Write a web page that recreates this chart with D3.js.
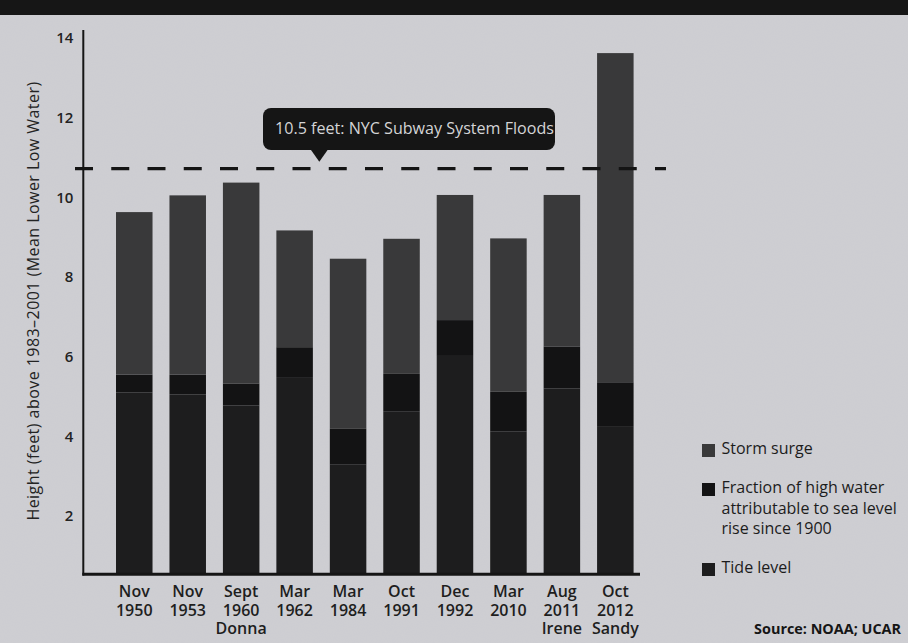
<!DOCTYPE html>
<html>
<head>
<meta charset="utf-8">
<script src="https://cdn.jsdelivr.net/npm/d3@7"></script>
<style>
  html, body { margin: 0; padding: 0; background: #cdcdd1; }
  svg { display: block; font-family: "Open Sans", "Noto Sans", sans-serif; }
</style>
</head>
<body>
<div id="chart"></div>
<script>
// storm events, oldest first
var months = ["Nov", "Nov", "Sept", "Mar", "Mar", "Oct", "Dec", "Mar", "Aug", "Oct"];
var years = ["1950", "1953", "1960", "1962", "1984", "1991", "1992", "2010", "2011", "2012"];
var names = ["", "", "Donna", "", "", "", "", "", "Irene", "Sandy"];

// feet above 1983-2001 MLLW
var tideLevel = [5.10, 5.05, 4.78, 5.49, 3.29, 4.62, 6.02, 4.12, 5.20, 4.26];
var seaLevelRise = [0.45, 0.50, 0.55, 0.75, 0.90, 0.95, 0.90, 1.00, 1.05, 1.10];
var stormSurge = [4.08, 4.50, 5.04, 2.93, 4.27, 3.39, 3.14, 3.85, 3.81, 8.26];

var yTicks = [2, 4, 6, 8, 10, 12, 14];
var floodLevel = 10.72;
var floodLabel = "10.5 feet: NYC Subway System Floods";

var seriesKeys = ["tide", "slr", "surge"];
var seriesColors = { tide: "#1d1d1e", slr: "#131314", surge: "#39393a" };
var legendItems = [
  { key: "surge", lines: ["Storm surge"] },
  { key: "slr", lines: ["Fraction of high water", "attributable to sea level", "rise since 1900"] },
  { key: "tide", lines: ["Tide level"] }
];

var W = 908, H = 643;

var rows = years.map(function(y, i) {
  return { id: i, tide: tideLevel[i], slr: seaLevelRise[i], surge: stormSurge[i] };
});

var svg = d3.select("#chart").append("svg")
  .attr("width", W)
  .attr("height", H);

// paper grain
var defs = svg.append("defs");
var grain = defs.append("filter").attr("id", "grain")
  .attr("x", 0).attr("y", 0).attr("width", "100%").attr("height", "100%");
grain.append("feTurbulence")
  .attr("type", "fractalNoise").attr("baseFrequency", 0.9)
  .attr("numOctaves", 2).attr("seed", 3).attr("result", "noise");
grain.append("feColorMatrix").attr("type", "matrix")
  .attr("values", "0 0 0 0 0.55  0 0 0 0 0.55  0 0 0 0 0.6  0 0 0 0.25 0");

svg.append("rect").attr("width", W).attr("height", H).attr("fill", "#cfcfd3");
svg.append("rect").attr("width", W).attr("height", H).attr("filter", "url(#grain)");

// black header strip cut off at the top
svg.append("rect").attr("x", 0).attr("y", 0).attr("width", W).attr("height", 15).attr("fill", "#161616");

var x = d3.scaleBand()
  .domain(d3.range(years.length))
  .range([83.3, 666.3])
  .paddingInner(0.317)
  .paddingOuter(0.612);

var y = d3.scaleLinear()
  .domain([0.54, 14.2])
  .range([574.3, 30])
  .clamp(true);

var stack = d3.stack().keys(seriesKeys);
var layers = stack(rows);

svg.append("g").selectAll("g")
  .data(layers)
  .join("g")
  .attr("fill", function(d) { return seriesColors[d.key]; })
  .selectAll("rect")
  .data(function(d) { return d; })
  .join("rect")
  .attr("x", function(d, i) { return x(i); })
  .attr("width", x.bandwidth())
  .attr("y", function(d) { return y(d[1]); })
  .attr("height", function(d) { return y(d[0]) - y(d[1]); });

// y axis
var yAxis = d3.axisLeft(y).tickValues(yTicks).tickSize(0).tickPadding(10);
var gy = svg.append("g").attr("transform", "translate(83.3,0)").call(yAxis);
gy.select(".domain").remove();
gy.selectAll("text")
  .attr("font-size", 15).attr("font-weight", 600).attr("fill", "#232323")
  .attr("font-family", "Open Sans, sans-serif");
svg.append("line")
  .attr("x1", 83.3).attr("x2", 83.3).attr("y1", y(14.2)).attr("y2", 575.5)
  .attr("stroke", "#151515").attr("stroke-width", 2);

// x axis line
svg.append("line")
  .attr("x1", 82.3).attr("x2", 640).attr("y1", 574.3).attr("y2", 574.3)
  .attr("stroke", "#151515").attr("stroke-width", 3);

// x labels
var xl = svg.append("g").selectAll("text")
  .data(years.map(function(yr, i) { return [months[i], yr, names[i]]; }))
  .join("text")
  .attr("text-anchor", "middle")
  .attr("font-size", 16).attr("font-weight", 600).attr("fill", "#1e1e1e")
  .attr("transform", function(d, i) { return "translate(" + (x(i) + x.bandwidth() / 2) + ",0)"; });
xl.selectAll("tspan")
  .data(function(d) { return d; })
  .join("tspan")
  .attr("x", 0)
  .attr("y", function(d, j) { return 597 + j * 18.5; })
  .text(function(d) { return d; });

// y axis title
svg.append("text")
  .attr("transform", "translate(39," + 301 + ") rotate(-90)")
  .attr("text-anchor", "middle")
  .attr("font-size", 16).attr("fill", "#232323")
  .attr("letter-spacing", 0.45)
  .text("Height (feet) above 1983\u20132001 (Mean Lower Low Water)");

// flood level dashed line
svg.append("line")
  .attr("x1", 75).attr("x2", 666)
  .attr("y1", y(floodLevel)).attr("y2", y(floodLevel))
  .attr("stroke", "#141414").attr("stroke-width", 3.2)
  .attr("stroke-dasharray", "18,18.25");

// callout
var cx0 = 263, cx1 = 555, cy0 = 108, cy1 = 150, tipX = 319.3;
svg.append("rect")
  .attr("x", cx0).attr("y", cy0).attr("width", cx1 - cx0).attr("height", cy1 - cy0)
  .attr("rx", 8).attr("fill", "#151515");
svg.append("path")
  .attr("d", "M" + (tipX - 9) + "," + (cy1 - 1) + "L" + tipX + "," + (y(floodLevel) - 7) + "L" + (tipX + 9) + "," + (cy1 - 1) + "Z")
  .attr("fill", "#151515");
svg.append("text")
  .attr("x", 275).attr("y", 134)
  .attr("font-size", 16.1).attr("fill", "#d4d4d6")
  .text(floodLabel);

// legend
var legY = [444, 483, 563];
var lg = svg.append("g").selectAll("g")
  .data(legendItems)
  .join("g")
  .attr("transform", function(d, i) { return "translate(702," + legY[i] + ")"; });
lg.append("rect")
  .attr("width", 13).attr("height", 13)
  .attr("fill", function(d) { return seriesColors[d.key]; });
lg.append("text")
  .attr("font-size", 16).attr("fill", "#1c1c1c")
  .selectAll("tspan")
  .data(function(d) { return d.lines; })
  .join("tspan")
  .attr("x", 19.5)
  .attr("y", function(d, j) { return 10 + j * 20.5; })
  .text(function(d) { return d; });

// source
svg.append("text")
  .attr("x", 901).attr("y", 634)
  .attr("text-anchor", "end")
  .attr("font-size", 14.4).attr("font-weight", 700).attr("fill", "#151515")
  .text("Source: NOAA; UCAR");
</script>
</body>
</html>
